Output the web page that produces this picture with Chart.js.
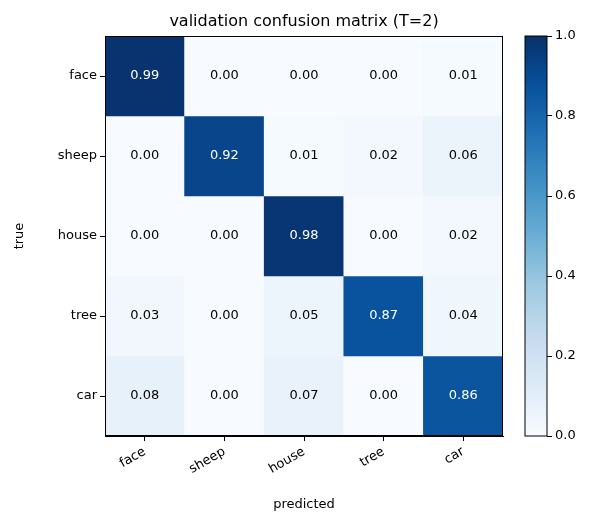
<!DOCTYPE html>
<html><head><meta charset="utf-8">
<script src="https://cdn.jsdelivr.net/npm/chart.js@4"></script>
<style>body{margin:0;background:#fff}#wrap{position:relative;width:599px;height:530px}
canvas{position:absolute;top:0}</style></head>
<body><div id="wrap"><canvas id="cm" width="599" height="530" style="left:0;width:599px;height:530px"></canvas>
<canvas id="cb" width="84" height="530" style="left:515px;width:84px;height:530px"></canvas></div>
<script>
const classes = ['face', 'sheep', 'house', 'tree', 'car'];
const matrix = [
  [0.99, 0.00, 0.00, 0.00, 0.01],
  [0.00, 0.92, 0.01, 0.02, 0.06],
  [0.00, 0.00, 0.98, 0.00, 0.02],
  [0.03, 0.00, 0.05, 0.87, 0.04],
  [0.08, 0.00, 0.07, 0.00, 0.86]
];
const cbTicks = [0, 0.2, 0.4, 0.6, 0.8, 1.0];
const blues = ['#f7fbff','#deebf7','#c6dbef','#9ecae1','#6baed6','#4292c6','#2171b5','#08519c','#08306b'];
const FONT = 'DejaVu Sans';

function hex(h){return [1,3,5].map(i=>parseInt(h.substr(i,2),16));}
function cmap(v){
  const t=Math.max(0,Math.min(1,v))*(blues.length-1), i=Math.min(Math.floor(t),blues.length-2), f=t-i;
  const a=hex(blues[i]), b=hex(blues[i+1]);
  return 'rgb('+a.map((c,k)=>Math.round(c+(b[k]-c)*f)).join(',')+')';
}

const datasets = matrix.map((row, r) => ({
  label: classes[r],
  data: classes.map((c, j) => ({x: j, y: [r, r + 1]})),
  backgroundColor: row.map(cmap),
  borderWidth: 0, barPercentage: 1, categoryPercentage: 1, grouped: false
}));

const labelPlugin = {
  id: 'labels',
  afterDatasetsDraw(chart) {
    const {ctx, chartArea: a, scales: {x, y}} = chart;
    ctx.save();
    ctx.font = '13px ' + FONT; ctx.textAlign = 'center'; ctx.textBaseline = 'middle';
    matrix.forEach((row, r) => row.forEach((v, j) => {
      ctx.fillStyle = v > 0.5 ? '#fff' : '#000';
      ctx.fillText(v.toFixed(2), x.getPixelForValue(j), y.getPixelForValue(r + 0.5));
    }));
    ctx.strokeStyle = '#000'; ctx.lineWidth = 1;
    ctx.strokeRect(a.left + 0.5, a.top + 0.5, a.right - a.left - 1, a.bottom - a.top - 1);
    ctx.font = '16px ' + FONT; ctx.fillStyle = '#000';
    ctx.fillText('validation confusion matrix (T=2)', (a.left + a.right) / 2, 22);
    ctx.restore();
  }
};

new Chart(document.getElementById('cm'), {
  type: 'bar',
  data: {labels: classes, datasets},
  options: {
    responsive: false, animation: false,
    layout: {padding: {top: 36, right: 96, left: 8, bottom: 14}},
    plugins: {legend: {display: false}, tooltip: {enabled: false}},
    scales: {
      x: {
        grid: {drawOnChartArea: false, offset: false, tickLength: 5, color: '#000'},
        border: {color: '#000'},
        ticks: {color: '#000', font: {family: FONT, size: 13}, maxRotation: 30, minRotation: 30},
        title: {display: true, text: 'predicted', color: '#000', font: {family: FONT, size: 13}},
        afterFit(s) { s.height = 80; }
      },
      y: {
        type: 'linear', min: 0, max: 5, reverse: true,
        afterBuildTicks(s) { s.ticks = classes.map((c, i) => ({value: i + 0.5})); },
        grid: {drawOnChartArea: false, tickLength: 5, color: '#000'},
        border: {color: '#000'},
        ticks: {color: '#000', font: {family: FONT, size: 13}, padding: 3, callback: v => classes[Math.floor(v)]},
        title: {display: true, text: 'true', color: '#000', font: {family: FONT, size: 13}},
        afterFit(s) { s.width = 97; }
      }
    }
  },
  plugins: [labelPlugin]
});

const gradPlugin = {
  id: 'grad',
  beforeDatasetsDraw(chart) {
    const {ctx, chartArea: a, scales: {y}} = chart;
    const g = ctx.createLinearGradient(0, y.getPixelForValue(0), 0, y.getPixelForValue(1));
    blues.forEach((c, i) => g.addColorStop(i / (blues.length - 1), c));
    ctx.save(); ctx.fillStyle = g; ctx.fillRect(a.left, a.top, a.right - a.left, a.bottom - a.top);
    ctx.strokeStyle = '#000'; ctx.lineWidth = 1; ctx.strokeRect(a.left, a.top, a.right - a.left, a.bottom - a.top);
    ctx.restore();
  }
};

new Chart(document.getElementById('cb'), {
  type: 'bar',
  data: {labels: [''], datasets: [{data: [0], backgroundColor: 'rgba(0,0,0,0)'}]},
  options: {
    responsive: false, animation: false,
    layout: {padding: {top: 36, left: 10, right: 0, bottom: 0}},
    plugins: {legend: {display: false}, tooltip: {enabled: false}},
    scales: {
      x: {display: false, afterFit(s) { s.height = 94; }},
      y: {
        position: 'right', min: 0, max: 1,
        afterBuildTicks(s) { s.ticks = cbTicks.map(v => ({value: v})); },
        grid: {drawOnChartArea: false, tickLength: 5, color: '#000'},
        border: {display: false},
        ticks: {color: '#000', font: {family: FONT, size: 13}, callback: v => v.toFixed(1)},
        afterFit(s) { s.width = 52; }
      }
    }
  },
  plugins: [gradPlugin]
});
</script></body></html>
